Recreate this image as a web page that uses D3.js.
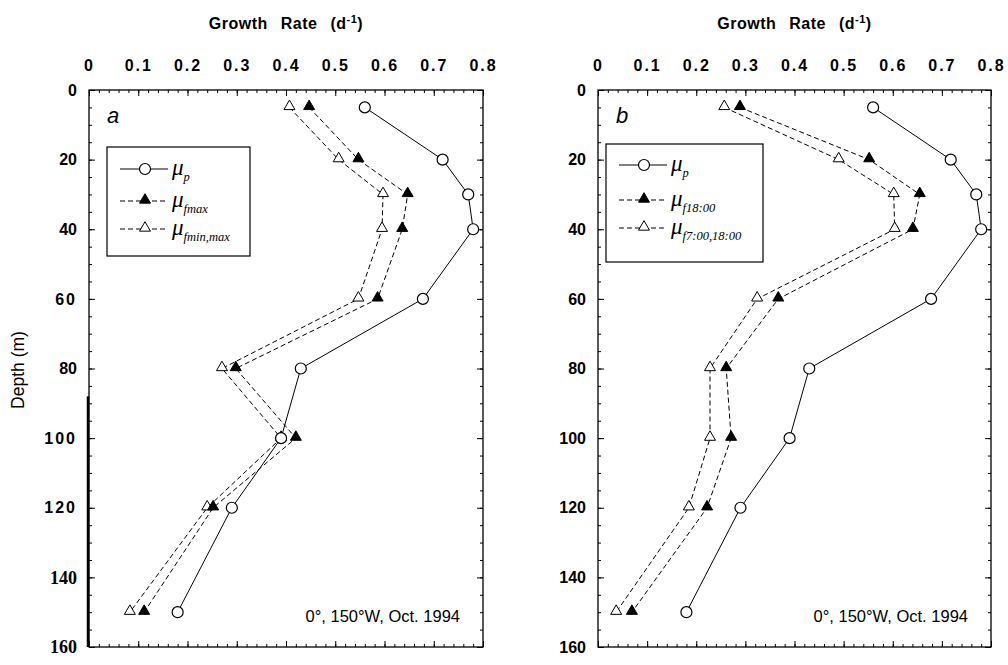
<!DOCTYPE html>
<html>
<head>
<meta charset="utf-8">
<script src="https://cdn.jsdelivr.net/npm/d3@7"></script>
<style>
    body { margin: 0; background: #fff; }
    text { fill: #000; }
</style>
</head>
<body>
<svg id="chart" width="1008" height="665"></svg>
<script>
// Data
var depths = [5, 20, 30, 40, 60, 80, 100, 120, 150];
var muP = [0.56, 0.718, 0.77, 0.78, 0.678, 0.43, 0.39, 0.29, 0.18];
// panel a
var muFmax = [0.447, 0.547, 0.647, 0.636, 0.586, 0.298, 0.42, 0.252, 0.112];
var muFminMax = [0.407, 0.507, 0.597, 0.595, 0.547, 0.27, 0.39, 0.24, 0.083];
// panel b
var muF18 = [0.289, 0.552, 0.655, 0.641, 0.367, 0.261, 0.271, 0.222, 0.069];
var muF7_18 = [0.257, 0.49, 0.602, 0.604, 0.324, 0.228, 0.228, 0.185, 0.037];

// Axis ticks
var xTicks = [0, 0.1, 0.2, 0.3, 0.4, 0.5, 0.6, 0.7, 0.8];
var xTickLabels = ["0", "0.1", "0.2", "0.3", "0.4", "0.5", "0.6", "0.7", "0.8"];
var yTicks = [0, 20, 40, 60, 80, 100, 120, 140, 160];
var yTickLabels = ["0", "20", "40", "60", "80", "100", "120", "140", "160"];

var svg = d3.select("#chart");

// Plot area
var plotTop = 90, plotBottom = 647;
var y = d3.scaleLinear().domain([0, 160]).range([plotTop, plotBottom]);

var sansFont = "'Liberation Sans', Arial, sans-serif";
var serifFont = "'Liberation Serif', 'Times New Roman', serif";

var drawMarkers = function(g, pts, kind, xf, triangle, fixedY) {
    var py = function(d) { return fixedY !== undefined ? fixedY : y(d.depth); };
    if (kind === "circle") {
        g.selectAll(null).data(pts).enter().append("circle")
            .attr("cx", function(d) { return xf(d.v); })
            .attr("cy", py)
            .attr("r", 5.5)
            .attr("fill", "#fff")
            .attr("stroke", "#000")
            .attr("stroke-width", 1.2);
    } else {
        g.selectAll(null).data(pts).enter().append("path")
            .attr("d", triangle)
            .attr("transform", function(d) { return "translate(" + xf(d.v) + "," + (py(d) - 1) + ")"; })
            .attr("fill", kind === "filled" ? "#000" : "#fff")
            .attr("stroke", "#000")
            .attr("stroke-width", 1);
    }
};

var drawPanel = function(opts) {
    var g = svg.append("g");
    var x = d3.scaleLinear().domain([0, 0.8]).range([opts.x0, opts.x1]);
    var minorX = d3.range(0, 0.8001, 0.02);
    var minorY = d3.range(0, 160.001, 5);

    // Frame
    g.append("rect")
        .attr("x", opts.x0)
        .attr("y", plotTop)
        .attr("width", opts.x1 - opts.x0)
        .attr("height", plotBottom - plotTop)
        .attr("fill", "none")
        .attr("stroke", "#000")
        .attr("stroke-width", 1.3);

    // Top axis with labels
    var topAxis = g.append("g")
        .attr("transform", "translate(0," + plotTop + ")")
        .call(d3.axisTop(x).tickValues(xTicks).tickSize(-6).tickPadding(19)
            .tickFormat(function(d, i) { return xTickLabels[i]; }));
    topAxis.select(".domain").remove();
    topAxis.selectAll("text")
        .style("font-family", "'Liberation Sans Narrow', " + sansFont)
        .style("font-weight", "700")
        .style("font-size", "16px")
        .style("letter-spacing", "2px");
    g.append("g")
        .attr("transform", "translate(0," + plotTop + ")")
        .call(d3.axisTop(x).tickValues(minorX).tickSize(-3).tickFormat(""))
        .select(".domain").remove();

    // Bottom axis ticks
    g.append("g")
        .attr("transform", "translate(0," + plotBottom + ")")
        .call(d3.axisBottom(x).tickValues(xTicks).tickSize(-6).tickFormat(""))
        .select(".domain").remove();
    g.append("g")
        .attr("transform", "translate(0," + plotBottom + ")")
        .call(d3.axisBottom(x).tickValues(minorX).tickSize(-3).tickFormat(""))
        .select(".domain").remove();

    // Left axis with labels
    var leftAxis = g.append("g")
        .attr("transform", "translate(" + opts.x0 + ",0)")
        .call(d3.axisLeft(y).tickValues(yTicks).tickSize(-6).tickPadding(12)
            .tickFormat(function(d, i) { return yTickLabels[i]; }));
    leftAxis.select(".domain").remove();
    leftAxis.selectAll("text")
        .style("font-family", sansFont)
        .style("font-weight", "700")
        .style("font-size", "16px");
    if (opts.serifDeep) {
        leftAxis.selectAll("text")
            .filter(function(d) { return d >= 140; })
            .style("font-family", serifFont)
            .style("font-size", "18px");
        leftAxis.selectAll("text")
            .filter(function(d) { return d === 60 || d === 100 || d === 120; })
            .style("letter-spacing", "2px");
    }
    g.append("g")
        .attr("transform", "translate(" + opts.x0 + ",0)")
        .call(d3.axisLeft(y).tickValues(minorY).tickSize(-3).tickFormat(""))
        .select(".domain").remove();

    // Right axis ticks
    g.append("g")
        .attr("transform", "translate(" + opts.x1 + ",0)")
        .call(d3.axisRight(y).tickValues(yTicks).tickSize(-6).tickFormat(""))
        .select(".domain").remove();
    g.append("g")
        .attr("transform", "translate(" + opts.x1 + ",0)")
        .call(d3.axisRight(y).tickValues(minorY).tickSize(-3).tickFormat(""))
        .select(".domain").remove();

    g.selectAll(".tick line").attr("stroke", "#000").attr("stroke-width", 1);

    // Axis title
    var title = g.append("text")
        .attr("x", (opts.x0 + opts.x1) / 2)
        .attr("y", 29)
        .attr("text-anchor", "middle")
        .style("font-family", sansFont)
        .style("font-weight", "700")
        .style("font-size", "16px")
        .style("letter-spacing", "0.5px")
        .style("word-spacing", "8px");
    title.append("tspan").text("Growth Rate (d");
    title.append("tspan").attr("dy", -6).style("font-size", "11px").text("-1");
    title.append("tspan").attr("dy", 6).text(")");

    // Panel letter
    g.append("text")
        .attr("x", opts.x0 + 18)
        .attr("y", 123)
        .style("font-family", sansFont)
        .style("font-style", "italic")
        .style("font-size", "22px")
        .text(opts.letter);

    // Location label
    g.append("text")
        .attr("x", opts.x1 - 23)
        .attr("y", 622)
        .attr("text-anchor", "end")
        .style("font-family", sansFont)
        .style("font-size", "16.5px")
        .text("0°, 150°W, Oct. 1994");

    // Series
    var line = d3.line()
        .x(function(d) { return x(d.v); })
        .y(function(d) { return y(d.depth); });
    var triangle = d3.symbol().type(d3.symbolTriangle).size(52);

    opts.series.forEach(function(s) {
        var pts = depths.map(function(d, i) { return { depth: d, v: s.values[i] }; });
        g.append("path")
            .attr("d", line(pts))
            .attr("fill", "none")
            .attr("stroke", "#000")
            .attr("stroke-width", 1)
            .attr("stroke-dasharray", s.dash);
    });
    opts.series.slice().reverse().forEach(function(s) {
        var pts = depths.map(function(d, i) { return { depth: d, v: s.values[i] }; });
        drawMarkers(g, pts, s.marker, x, triangle);
    });

    // Legend
    var lg = g.append("g");
    lg.append("rect")
        .attr("x", opts.legend.x)
        .attr("y", opts.legend.y)
        .attr("width", opts.legend.w)
        .attr("height", opts.legend.h)
        .attr("fill", "#fff")
        .attr("stroke", "#000")
        .attr("stroke-width", 1.2);
    opts.series.forEach(function(s, i) {
        var ry = opts.legend.y + opts.legend.rows[i];
        var lx = opts.legend.x + 13;
        lg.append("line")
            .attr("x1", lx).attr("x2", lx + 48)
            .attr("y1", ry).attr("y2", ry)
            .attr("stroke", "#000")
            .attr("stroke-width", 1)
            .attr("stroke-dasharray", s.dash);
        drawMarkers(lg, [{ depth: 0, v: 0 }], s.marker, function() { return lx + 25; }, triangle, ry);
        var t = lg.append("text")
            .attr("x", lx + 52)
            .attr("y", ry + 6)
            .style("font-family", serifFont)
            .style("font-style", "italic");
        t.append("tspan").style("font-size", "23px").text("μ");
        t.append("tspan").attr("dy", 6).style("font-size", "12.5px").text(s.sub);
    });
};

// Panel a
drawPanel({
    x0: 89, x1: 483, letter: "a", serifDeep: true,
    series: [
        { values: muP, marker: "circle", dash: null, sub: "p" },
        { values: muFmax, marker: "filled", dash: "5,3", sub: "fmax" },
        { values: muFminMax, marker: "open", dash: "5,3", sub: "fmin,max" }
    ],
    legend: { x: 107, y: 147, w: 143, h: 109, rows: [22, 54, 82] }
});

// Panel b
drawPanel({
    x0: 598, x1: 991, letter: "b", serifDeep: false,
    series: [
        { values: muP, marker: "circle", dash: null, sub: "p" },
        { values: muF18, marker: "filled", dash: "5,3", sub: "f18:00" },
        { values: muF7_18, marker: "open", dash: "5,3", sub: "f7:00,18:00" }
    ],
    legend: { x: 606, y: 144, w: 157, h: 118, rows: [21, 56, 84] }
});

// Darker scan edge on lower left axis of panel a
svg.append("line")
    .attr("x1", 88).attr("x2", 88)
    .attr("y1", y(88)).attr("y2", plotBottom)
    .attr("stroke", "#000")
    .attr("stroke-width", 2.5);

// Y axis title
svg.append("text")
    .attr("transform", "translate(24,370) rotate(-90)")
    .attr("text-anchor", "middle")
    .style("font-family", sansFont)
    .style("font-size", "17.5px")
    .text("Depth (m)");
</script>
</body>
</html>
